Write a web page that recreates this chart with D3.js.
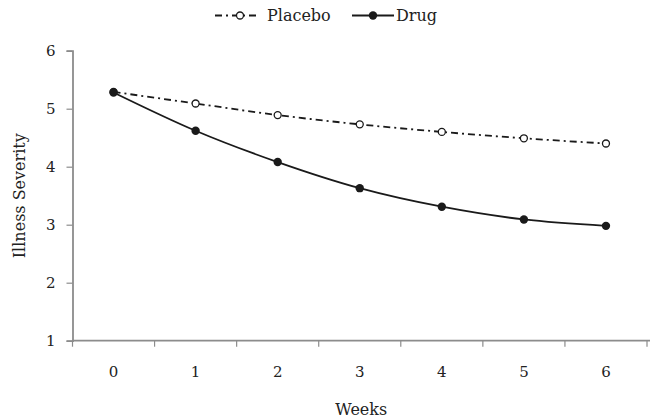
<!DOCTYPE html>
<html><head><meta charset="utf-8">
<script src="https://cdn.jsdelivr.net/npm/d3@7"></script>
<style>body{margin:0;background:#fff}svg{display:block}text{font-family:"DejaVu Serif",serif;fill:#222}</style>
</head><body>
<script>
const weeks = ["0","1","2","3","4","5","6"];
const placebo = [5.29, 5.09, 4.89, 4.73, 4.60, 4.49, 4.40];
const drug = [5.28, 4.62, 4.08, 3.63, 3.31, 3.09, 2.98];
const yTicks = [1,2,3,4,5,6];

const W = 652, H = 419;
const m = {left:72.5, right:5, top:50.7, bottom:78.3};
const FS = "16px", TFS = "15px";
const svg = d3.select("body").append("svg").attr("width",W).attr("height",H);

const x = d3.scaleBand().domain(weeks).range([m.left, 647]);
const y = d3.scaleLinear().domain([1,6]).range([H-m.bottom, m.top]);
const axisCol = "#8c8c8c";

const yAx = svg.append("g").attr("transform",`translate(${m.left},0)`)
  .call(d3.axisLeft(y).tickValues(yTicks).tickFormat(d3.format("d")).tickSize(6).tickPadding(11));
const xAx = svg.append("g").attr("transform",`translate(0,${y(1)})`)
  .call(d3.axisBottom(x).tickSize(0).tickPadding(26));
xAx.selectAll(".bt").data(weeks.concat(["end"])).enter().append("line").attr("class","bt")
  .attr("x1",(d,i)=>m.left + i*x.step()).attr("x2",(d,i)=>m.left + i*x.step())
  .attr("y1",0).attr("y2",6).attr("stroke",axisCol).attr("stroke-width",1.2);
[yAx,xAx].forEach(g=>{
  g.selectAll("path.domain").attr("stroke",axisCol).attr("stroke-width",1.8);
  g.selectAll(".tick line").attr("stroke",axisCol).attr("stroke-width",1.2);
  g.selectAll("text").style("font-size",TFS).style("font-family","'DejaVu Serif',serif").attr("fill","#222");
});
xAx.select("path.domain").attr("d",`M${m.left},0H650`);

const cx = (d,i)=>x(weeks[i])+x.bandwidth()/2;
const line = d3.line().x(cx).y(d=>y(d)).curve(d3.curveMonotoneX);

svg.append("path").datum(placebo).attr("d",line).attr("fill","none")
  .attr("stroke","#1a1a1a").attr("stroke-width",1.8).attr("stroke-dasharray","7,4,2,4");
svg.append("path").datum(drug).attr("d",line).attr("fill","none")
  .attr("stroke","#1a1a1a").attr("stroke-width",1.8);

svg.selectAll(".pp").data(placebo).enter().append("circle")
  .attr("cx",cx).attr("cy",d=>y(d)).attr("r",3.5)
  .attr("fill","#fff").attr("stroke","#1a1a1a").attr("stroke-width",1.3);
svg.selectAll(".pd").data(drug).enter().append("circle")
  .attr("cx",cx).attr("cy",d=>y(d)).attr("r",4.2)
  .attr("fill","#1a1a1a");

svg.append("text").attr("x",(m.left+650)/2).attr("y",415).attr("text-anchor","middle")
  .style("font-size",FS).text("Weeks");
svg.append("text").attr("transform",`translate(25,${(y(1)+y(6))/2}) rotate(-90)`)
  .attr("text-anchor","middle").style("font-size",FS).text("Illness Severity");

const lg = svg.append("g");
lg.append("line").attr("x1",215).attr("x2",260).attr("y1",15.5).attr("y2",15.5)
  .attr("stroke","#1a1a1a").attr("stroke-width",1.8).attr("stroke-dasharray","7,4,2,4");
lg.append("circle").attr("cx",240).attr("cy",15.5).attr("r",3.5).attr("fill","#fff")
  .attr("stroke","#1a1a1a").attr("stroke-width",1.3);
lg.append("text").attr("x",267).attr("y",21).style("font-size",FS).text("Placebo");
lg.append("line").attr("x1",352).attr("x2",394).attr("y1",15.5).attr("y2",15.5)
  .attr("stroke","#1a1a1a").attr("stroke-width",1.8);
lg.append("circle").attr("cx",373).attr("cy",15.5).attr("r",4.2).attr("fill","#1a1a1a");
lg.append("text").attr("x",396).attr("y",21).style("font-size",FS).text("Drug");
</script>
</body></html>
